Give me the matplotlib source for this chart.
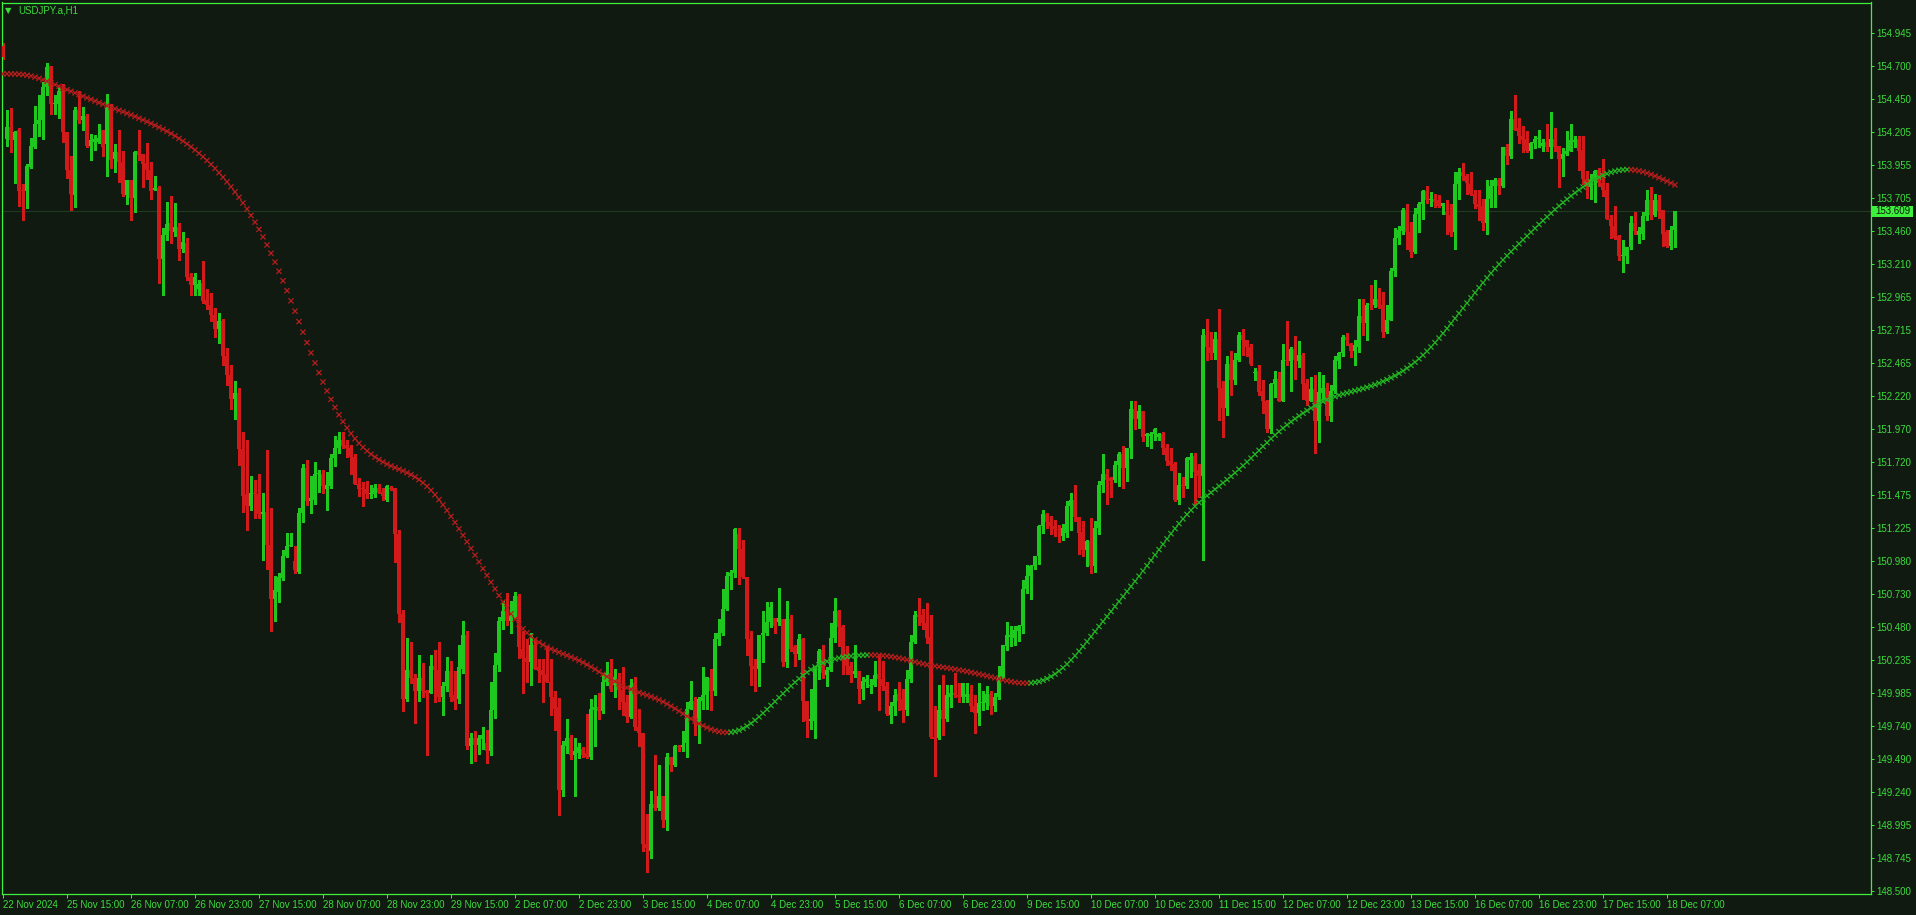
import numpy as np
import matplotlib
matplotlib.use("Agg")
import matplotlib.pyplot as plt
from matplotlib.patches import Rectangle

# === USDJPY.a H1 bars (bar 0 = 22 Nov 23:00) ===
opens = [
    154.85, 154.15, 154.24, 154.14, 154.22, 153.77, 153.76, 153.94, 154.09, 154.26,
    154.29, 154.54, 154.70, 154.41, 154.41, 154.51, 154.20, 153.92, 153.73, 154.37,
    154.29, 154.32, 154.10, 154.13, 154.13, 154.22, 154.11, 154.38, 154.00, 154.05,
    153.98, 153.73, 153.84, 153.71, 154.06, 154.04, 153.97, 153.92, 153.77, 153.78,
    153.25, 153.43, 153.52, 153.45, 153.49, 153.32, 153.37, 153.11, 153.05, 153.02,
    153.07, 152.94, 152.90, 152.83, 152.72, 152.78, 152.52, 152.38, 152.20, 152.24,
    151.82, 151.48, 151.39, 151.49, 151.48, 151.33, 151.35, 151.10, 150.69, 150.75,
    150.85, 151.02, 151.09, 150.98, 150.90, 151.34, 151.68, 151.43, 151.44, 151.63,
    151.63, 151.52, 151.54, 151.75, 151.83, 151.89, 151.85, 151.83, 151.76, 151.56,
    151.53, 151.52, 151.48, 151.48, 151.53, 151.50, 151.44, 151.53, 151.53, 151.18,
    150.58, 149.94, 150.16, 150.10, 150.00, 150.10, 150.00, 149.99, 150.19, 150.16,
    149.96, 150.04, 150.15, 149.97, 149.94, 150.17, 150.42, 149.59, 149.65, 149.60,
    149.64, 149.61, 149.55, 149.86, 150.20, 150.53, 150.60, 150.53, 150.56, 150.72,
    150.32, 150.25, 150.22, 150.35, 150.18, 150.16, 150.13, 150.07, 149.96, 149.88,
    149.26, 149.59, 149.65, 149.52, 149.54, 149.57, 149.54, 149.51, 149.86, 149.88,
    149.85, 150.07, 150.14, 150.05, 150.09, 150.01, 149.92, 149.81, 150.06, 149.73,
    149.69, 148.85, 148.80, 149.15, 149.12, 149.21, 149.03, 149.51, 149.45, 149.59,
    149.58, 149.61, 149.87, 149.93, 149.77, 149.93, 149.97, 150.10, 150.00, 150.39,
    150.44, 150.62, 150.87, 150.89, 151.18, 151.07, 150.86, 150.39, 150.19, 150.17,
    150.42, 150.44, 150.52, 150.55, 150.52, 150.54, 150.22, 150.54, 150.33, 150.28,
    150.39, 149.93, 149.78, 149.78, 150.19, 150.31, 150.12, 150.16, 150.40, 150.60,
    150.48, 150.26, 150.19, 150.13, 150.15, 150.02, 150.07, 150.04, 150.05, 150.13,
    150.09, 150.04, 149.82, 149.89, 149.98, 149.94, 149.86, 150.09, 150.37, 150.57,
    150.57, 150.51, 150.41, 149.66, 149.65, 149.86, 149.79, 149.96, 149.99, 149.97,
    149.96, 149.96, 149.98, 149.89, 149.84, 149.91, 149.91, 149.98, 149.89, 149.96,
    150.11, 150.34, 150.41, 150.40, 150.45, 150.49, 150.77, 150.87, 150.94, 151.02,
    151.24, 151.33, 151.27, 151.24, 151.22, 151.17, 151.19, 151.39, 151.44, 151.31,
    151.20, 151.06, 151.13, 150.94, 151.23, 151.55, 151.63, 151.60, 151.59, 151.70,
    151.78, 151.68, 151.83, 152.12, 152.05, 152.11, 151.92, 151.92, 151.93, 151.91,
    151.93, 151.83, 151.73, 151.71, 151.44, 151.55, 151.54, 151.74, 151.77, 151.66,
    151.62, 152.68, 152.59, 152.54, 152.65, 152.28, 152.13, 152.46, 152.34, 152.49,
    152.68, 152.64, 152.59, 152.39, 152.41, 152.26, 152.18, 151.97, 152.31, 152.35,
    152.18, 152.49, 152.48, 152.57, 152.48, 152.53, 152.32, 152.18, 152.27, 152.03,
    152.24, 152.28, 152.07, 152.26, 152.48, 152.54, 152.66, 152.61, 152.56, 152.59,
    152.82, 152.77, 152.91, 152.90, 152.95, 152.90, 152.70, 152.79, 153.16, 153.41,
    153.46, 153.62, 153.45, 153.30, 153.59, 153.66, 153.76, 153.69, 153.70, 153.69,
    153.65, 153.60, 153.58, 153.45, 153.81, 153.90, 153.87, 153.81, 153.74, 153.66,
    153.65, 153.52, 153.70, 153.80, 153.84, 153.80, 154.09, 154.02, 154.30, 154.23,
    154.17, 154.15, 154.06, 154.12, 154.15, 154.10, 154.13, 154.09, 154.15, 154.10,
    154.00, 154.04, 154.06, 154.13, 154.15, 154.07, 153.85, 153.79, 153.84, 153.92,
    153.82, 153.77, 153.55, 153.50, 153.42, 153.27, 153.27, 153.34, 153.52, 153.43,
    153.44, 153.57, 153.69, 153.58, 153.69, 153.62, 153.45, 153.35, 153.47,
]
highs = [
    154.87, 154.37, 154.38, 154.21, 154.23, 153.81, 153.96, 154.16, 154.40, 154.48,
    154.58, 154.72, 154.70, 154.48, 154.54, 154.56, 154.20, 154.02, 154.39, 154.51,
    154.39, 154.34, 154.19, 154.18, 154.26, 154.22, 154.49, 154.41, 154.11, 154.22,
    154.06, 153.84, 153.84, 154.06, 154.22, 154.04, 154.12, 153.98, 153.87, 153.80,
    153.48, 153.68, 153.72, 153.67, 153.52, 153.45, 153.41, 153.14, 153.14, 153.09,
    153.23, 153.02, 152.99, 152.88, 152.84, 152.80, 152.58, 152.45, 152.33, 152.28,
    151.95, 151.89, 151.62, 151.59, 151.63, 151.49, 151.81, 151.38, 150.87, 150.89,
    151.06, 151.19, 151.19, 151.09, 151.38, 151.71, 151.74, 151.62, 151.72, 151.66,
    151.66, 151.65, 151.78, 151.92, 151.95, 151.95, 151.89, 151.85, 151.78, 151.60,
    151.57, 151.58, 151.55, 151.56, 151.56, 151.53, 151.55, 151.54, 151.53, 151.21,
    150.61, 150.40, 150.37, 150.13, 150.27, 150.21, 150.01, 150.27, 150.31, 150.37,
    150.07, 150.26, 150.23, 150.15, 150.35, 150.53, 150.45, 149.69, 149.70, 149.67,
    149.73, 149.71, 150.07, 150.29, 150.56, 150.68, 150.74, 150.68, 150.75, 150.73,
    150.45, 150.39, 150.44, 150.39, 150.24, 150.24, 150.34, 150.24, 150.00, 149.95,
    149.63, 149.79, 149.67, 149.65, 149.61, 149.58, 149.83, 149.94, 149.97, 149.99,
    150.14, 150.22, 150.24, 150.17, 150.14, 150.18, 149.97, 150.09, 150.11, 149.87,
    149.69, 149.08, 149.25, 149.52, 149.45, 149.21, 149.54, 149.51, 149.60, 149.60,
    149.70, 149.92, 150.08, 149.96, 149.96, 150.18, 150.11, 150.17, 150.44, 150.54,
    150.77, 150.90, 150.91, 151.23, 151.23, 151.14, 150.86, 150.45, 150.24, 150.42,
    150.60, 150.67, 150.67, 150.55, 150.78, 150.54, 150.68, 150.57, 150.35, 150.43,
    150.40, 149.93, 150.02, 150.19, 150.32, 150.35, 150.18, 150.51, 150.70, 150.61,
    150.50, 150.34, 150.22, 150.35, 150.15, 150.11, 150.12, 150.09, 150.23, 150.28,
    150.23, 150.07, 149.92, 150.02, 150.07, 150.02, 150.16, 150.42, 150.60, 150.70,
    150.62, 150.66, 150.57, 149.89, 150.05, 150.12, 150.05, 150.05, 150.14, 150.06,
    150.06, 150.06, 150.05, 149.97, 150.06, 150.00, 150.04, 150.00, 149.99, 150.19,
    150.35, 150.52, 150.49, 150.49, 150.50, 150.84, 150.95, 150.95, 151.02, 151.25,
    151.36, 151.34, 151.32, 151.29, 151.25, 151.26, 151.43, 151.49, 151.55, 151.31,
    151.28, 151.14, 151.30, 151.28, 151.58, 151.78, 151.67, 151.61, 151.73, 151.80,
    151.84, 151.83, 152.18, 152.18, 152.15, 152.11, 151.94, 151.95, 151.98, 151.94,
    151.95, 151.86, 151.83, 151.72, 151.64, 151.61, 151.76, 151.79, 151.79, 151.71,
    152.72, 152.80, 152.70, 152.70, 152.87, 152.33, 152.52, 152.56, 152.54, 152.70,
    152.72, 152.64, 152.61, 152.43, 152.45, 152.34, 152.19, 152.32, 152.41, 152.40,
    152.61, 152.78, 152.59, 152.67, 152.63, 152.54, 152.35, 152.36, 152.38, 152.40,
    152.38, 152.32, 152.30, 152.52, 152.55, 152.68, 152.69, 152.62, 152.64, 152.95,
    152.95, 152.92, 153.05, 153.09, 153.03, 153.00, 152.90, 153.18, 153.48, 153.50,
    153.63, 153.66, 153.53, 153.63, 153.68, 153.77, 153.80, 153.75, 153.74, 153.73,
    153.67, 153.69, 153.66, 153.90, 153.93, 153.97, 153.89, 153.90, 153.77, 153.77,
    153.70, 153.84, 153.84, 153.86, 153.86, 154.09, 154.11, 154.36, 154.48, 154.31,
    154.25, 154.21, 154.13, 154.17, 154.22, 154.15, 154.26, 154.35, 154.23, 154.10,
    154.08, 154.21, 154.26, 154.17, 154.17, 154.17, 153.91, 153.89, 153.92, 153.93,
    154.00, 153.82, 153.58, 153.65, 153.43, 153.39, 153.34, 153.57, 153.60, 153.49,
    153.60, 153.77, 153.79, 153.74, 153.73, 153.62, 153.47, 153.50, 153.61,
]
lows = [
    154.75, 154.10, 154.05, 153.82, 153.65, 153.54, 153.63, 153.93, 154.08, 154.17,
    154.15, 154.48, 154.34, 154.34, 154.31, 154.13, 153.86, 153.62, 153.64, 154.27,
    154.22, 154.09, 153.99, 154.07, 154.12, 154.02, 153.87, 153.93, 153.90, 153.83,
    153.72, 153.66, 153.54, 153.60, 153.99, 153.79, 153.85, 153.70, 153.77, 153.07,
    152.98, 153.39, 153.37, 153.42, 153.24, 153.30, 153.09, 152.98, 152.98, 152.98,
    152.92, 152.87, 152.78, 152.66, 152.62, 152.45, 152.30, 152.12, 152.05, 151.70,
    151.35, 151.21, 151.36, 151.30, 151.30, 150.99, 150.92, 150.45, 150.53, 150.67,
    150.84, 151.01, 151.09, 150.89, 150.89, 151.27, 151.40, 151.34, 151.41, 151.50,
    151.49, 151.36, 151.53, 151.69, 151.79, 151.83, 151.76, 151.63, 151.56, 151.47,
    151.39, 151.45, 151.45, 151.46, 151.49, 151.44, 151.43, 151.51, 150.97, 150.52,
    149.85, 149.93, 150.06, 149.76, 149.93, 149.96, 149.52, 149.99, 149.92, 149.93,
    149.82, 150.00, 149.93, 149.87, 149.91, 150.14, 149.57, 149.46, 149.48, 149.53,
    149.57, 149.46, 149.52, 149.80, 150.15, 150.47, 150.50, 150.44, 150.55, 150.25,
    149.99, 150.07, 150.05, 150.17, 150.07, 149.92, 150.07, 149.82, 149.71, 149.07,
    149.21, 149.54, 149.49, 149.21, 149.50, 149.51, 149.50, 149.49, 149.59, 149.79,
    149.84, 150.05, 150.00, 149.96, 149.87, 149.82, 149.77, 149.80, 149.71, 149.59,
    148.80, 148.64, 148.75, 149.11, 149.11, 148.98, 148.96, 149.40, 149.44, 149.55,
    149.55, 149.51, 149.87, 149.67, 149.61, 149.87, 149.87, 149.86, 149.97, 150.35,
    150.42, 150.61, 150.77, 150.86, 150.81, 150.85, 150.27, 150.05, 150.00, 150.04,
    150.22, 150.42, 150.48, 150.44, 150.50, 150.19, 150.18, 150.30, 150.19, 150.24,
    149.78, 149.66, 149.72, 149.65, 150.09, 150.10, 150.04, 150.15, 150.37, 150.34,
    150.13, 150.13, 150.07, 150.11, 149.91, 149.94, 150.03, 149.99, 150.04, 149.86,
    150.01, 149.82, 149.76, 149.82, 149.86, 149.77, 149.82, 150.07, 150.36, 150.50,
    150.47, 150.36, 149.65, 149.36, 149.64, 149.67, 149.78, 149.88, 149.96, 149.92,
    149.92, 149.92, 149.85, 149.69, 149.75, 149.86, 149.87, 149.83, 149.85, 149.94,
    150.10, 150.31, 150.34, 150.35, 150.38, 150.44, 150.74, 150.69, 150.92, 150.96,
    151.19, 151.23, 151.18, 151.17, 151.12, 151.14, 151.16, 151.21, 151.28, 151.03,
    151.02, 150.94, 150.89, 150.90, 151.18, 151.50, 151.41, 151.46, 151.57, 151.54,
    151.53, 151.58, 151.75, 151.97, 151.98, 151.88, 151.84, 151.83, 151.89, 151.89,
    151.78, 151.70, 151.66, 151.43, 151.41, 151.46, 151.53, 151.61, 151.41, 151.46,
    150.99, 152.49, 152.50, 152.50, 152.04, 151.91, 152.08, 152.23, 152.31, 152.48,
    152.53, 152.52, 152.45, 152.34, 152.23, 152.09, 151.95, 151.94, 152.21, 152.18,
    152.18, 152.45, 152.26, 152.35, 152.44, 152.20, 152.15, 152.18, 151.79, 151.87,
    152.20, 152.04, 152.03, 152.24, 152.43, 152.52, 152.60, 152.51, 152.45, 152.55,
    152.68, 152.64, 152.87, 152.89, 152.88, 152.66, 152.69, 152.79, 153.12, 153.36,
    153.44, 153.32, 153.26, 153.29, 153.45, 153.55, 153.67, 153.65, 153.64, 153.64,
    153.59, 153.44, 153.42, 153.32, 153.70, 153.84, 153.74, 153.73, 153.63, 153.54,
    153.47, 153.44, 153.64, 153.64, 153.74, 153.79, 153.96, 154.01, 154.22, 154.12,
    154.05, 154.05, 154.01, 154.08, 154.09, 154.06, 154.06, 154.01, 154.06, 153.79,
    153.87, 154.03, 154.06, 154.09, 153.92, 153.81, 153.71, 153.70, 153.68, 153.80,
    153.72, 153.55, 153.41, 153.40, 153.24, 153.15, 153.22, 153.32, 153.44, 153.37,
    153.40, 153.54, 153.55, 153.57, 153.56, 153.35, 153.34, 153.32, 153.34,
]
closes = [
    154.77, 154.24, 154.14, 154.20, 153.76, 153.76, 153.95, 154.10, 154.26, 154.29,
    154.54, 154.69, 154.41, 154.42, 154.51, 154.20, 153.92, 153.74, 154.37, 154.29,
    154.32, 154.10, 154.14, 154.15, 154.16, 154.09, 154.38, 153.99, 154.05, 153.98,
    153.74, 153.84, 153.71, 154.05, 154.03, 153.96, 153.92, 153.76, 153.78, 153.25,
    153.43, 153.51, 153.46, 153.49, 153.32, 153.38, 153.11, 153.05, 153.11, 153.06,
    152.93, 152.90, 152.83, 152.72, 152.78, 152.52, 152.38, 152.20, 152.24, 151.82,
    151.47, 151.39, 151.49, 151.48, 151.33, 151.35, 151.10, 150.69, 150.76, 150.86,
    151.02, 151.09, 151.10, 150.91, 151.34, 151.68, 151.43, 151.45, 151.63, 151.64,
    151.54, 151.55, 151.75, 151.83, 151.89, 151.84, 151.83, 151.76, 151.56, 151.52,
    151.52, 151.48, 151.49, 151.53, 151.49, 151.47, 151.54, 151.52, 151.18, 150.58,
    149.94, 150.16, 150.10, 150.00, 150.10, 150.00, 149.99, 150.19, 150.16, 149.96,
    150.04, 150.15, 149.96, 149.93, 150.18, 150.42, 149.59, 149.65, 149.60, 149.65,
    149.67, 149.55, 149.86, 150.20, 150.53, 150.60, 150.53, 150.57, 150.72, 150.33,
    150.25, 150.22, 150.35, 150.17, 150.15, 150.12, 150.07, 149.96, 149.87, 149.26,
    149.60, 149.65, 149.52, 149.55, 149.58, 149.52, 149.51, 149.87, 149.88, 149.85,
    150.07, 150.14, 150.02, 150.11, 150.01, 149.92, 149.81, 150.05, 149.73, 149.69,
    148.85, 148.82, 149.15, 149.12, 149.21, 149.03, 149.51, 149.45, 149.59, 149.58,
    149.60, 149.87, 149.93, 149.77, 149.94, 149.97, 150.11, 150.00, 150.39, 150.44,
    150.62, 150.87, 150.89, 151.22, 151.07, 150.86, 150.39, 150.19, 150.17, 150.42,
    150.44, 150.52, 150.63, 150.49, 150.55, 150.22, 150.54, 150.32, 150.28, 150.39,
    149.93, 149.78, 149.79, 150.19, 150.30, 150.14, 150.16, 150.40, 150.60, 150.48,
    150.25, 150.19, 150.12, 150.15, 150.02, 150.08, 150.09, 150.05, 150.12, 150.09,
    150.04, 149.83, 149.89, 149.97, 149.93, 149.86, 150.09, 150.37, 150.57, 150.56,
    150.51, 150.40, 149.66, 149.64, 149.86, 149.79, 149.97, 149.99, 149.97, 149.96,
    150.06, 149.98, 149.89, 149.84, 149.91, 149.92, 149.98, 149.89, 149.96, 150.11,
    150.35, 150.42, 150.42, 150.46, 150.49, 150.77, 150.87, 150.94, 151.02, 151.24,
    151.33, 151.27, 151.24, 151.22, 151.21, 151.23, 151.39, 151.44, 151.31, 151.19,
    151.06, 151.13, 150.94, 151.23, 151.55, 151.63, 151.59, 151.58, 151.70, 151.78,
    151.68, 151.83, 152.12, 152.05, 152.11, 151.91, 151.93, 151.93, 151.97, 151.93,
    151.83, 151.73, 151.70, 151.44, 151.55, 151.54, 151.75, 151.76, 151.65, 151.62,
    152.68, 152.59, 152.54, 152.65, 152.28, 152.13, 152.46, 152.34, 152.49, 152.68,
    152.64, 152.59, 152.46, 152.40, 152.25, 152.18, 151.97, 152.31, 152.35, 152.18,
    152.49, 152.48, 152.57, 152.49, 152.53, 152.31, 152.18, 152.27, 152.03, 152.25,
    152.28, 152.07, 152.26, 152.49, 152.54, 152.66, 152.64, 152.56, 152.60, 152.82,
    152.77, 152.90, 152.90, 152.95, 152.89, 152.70, 152.79, 153.16, 153.41, 153.47,
    153.62, 153.45, 153.30, 153.59, 153.66, 153.76, 153.69, 153.70, 153.68, 153.65,
    153.67, 153.58, 153.45, 153.81, 153.90, 153.87, 153.82, 153.74, 153.66, 153.64,
    153.52, 153.70, 153.80, 153.84, 153.80, 154.09, 154.02, 154.30, 154.22, 154.17,
    154.14, 154.06, 154.12, 154.15, 154.16, 154.12, 154.09, 154.15, 154.09, 154.00,
    154.04, 154.06, 154.14, 154.14, 154.06, 153.85, 153.79, 153.84, 153.91, 153.82,
    153.77, 153.55, 153.50, 153.41, 153.27, 153.28, 153.34, 153.52, 153.46, 153.46,
    153.57, 153.69, 153.58, 153.69, 153.61, 153.44, 153.35, 153.47, 153.609,
]

# smoothed line: 4 chained EMAs of the closes, started from the value at the left edge
ma_start = 154.64
MA_PERIOD = 14
MA_STAGES = 4

price_ticks = [154.945, 154.700, 154.450, 154.205, 153.955, 153.705, 153.460, 153.210,
               152.965, 152.715, 152.465, 152.220, 151.970, 151.720, 151.475, 151.225,
               150.980, 150.730, 150.480, 150.235, 149.985, 149.740, 149.490, 149.240,
               148.995, 148.745, 148.500]
time_labels = ["22 Nov 2024", "25 Nov 15:00", "26 Nov 07:00", "26 Nov 23:00",
               "27 Nov 15:00", "28 Nov 07:00", "28 Nov 23:00", "29 Nov 15:00",
               "2 Dec 07:00", "2 Dec 23:00", "3 Dec 15:00", "4 Dec 07:00",
               "4 Dec 23:00", "5 Dec 15:00", "6 Dec 07:00", "6 Dec 23:00",
               "9 Dec 15:00", "10 Dec 07:00", "10 Dec 23:00", "11 Dec 15:00",
               "12 Dec 07:00", "12 Dec 23:00", "13 Dec 15:00", "16 Dec 07:00",
               "16 Dec 23:00", "17 Dec 15:00", "18 Dec 07:00"]
BARS_PER_LABEL = 16

# colours
BG = "#111a11"
FG = "#3cdc3c"
BORDER = "#3cf03c"
BULL = "#1ec81e"
BEAR = "#d21a1a"
MA_UP = "#22b422"
MA_DN = "#b81c1c"

plt.rcParams["font.family"] = ["Liberation Sans Narrow", "Liberation Sans", "DejaVu Sans"]


def ema_cascade(values, period, stages, seed):
    a = 2.0 / (period + 1.0)
    state = [seed] * stages
    out = []
    for v in values:
        x = v
        for s in range(stages):
            state[s] += a * (x - state[s])
            x = state[s]
        out.append(x)
    return np.array(out)


o = np.array(opens)
c = np.array(closes)
h = np.maximum(np.array(highs), np.maximum(o, c))
l = np.minimum(np.array(lows), np.minimum(o, c))
n = len(c)
x = np.arange(n)
ma = ema_cascade(c, MA_PERIOD, MA_STAGES, ma_start)

W, H = 1916, 915
fig = plt.figure(figsize=(W / 100, H / 100), dpi=100)
fig.patch.set_facecolor(BG)
ax = fig.add_axes([2 / W, 1 - 894 / H, 1869 / W, 891.5 / H])
ax.set_facecolor(BG)

# candles
up = c >= o
col = np.where(up, BULL, BEAR)
ax.axhline(c[-1], color="#1e3c1e", lw=0.8, zorder=1)
ax.vlines(x, l, h, colors=col, linewidth=0.8, zorder=2, antialiased=False)
body_lo = np.minimum(o, c)
body_h = np.maximum(np.abs(c - o), 0.008)
ax.bar(x, body_h, bottom=body_lo, width=0.8, color=col, linewidth=0,
       zorder=3, antialiased=False)

# slope-coloured smoothed line drawn as crosses
slope = np.diff(ma, prepend=ma[0] + 1)
ma_col = np.where(slope >= 0, MA_UP, MA_DN)
ax.scatter(x, ma, marker="x", s=14, c=ma_col, linewidths=0.9, zorder=4)

ax.set_xlim(-0.25, 467)
ax.set_ylim(148.477, 155.176)

for sp in ax.spines.values():
    sp.set_color(BORDER)
    sp.set_linewidth(0.9)

ax.yaxis.tick_right()
ax.set_yticks(price_ticks)
ax.set_yticklabels([f"{v:.3f}" for v in price_ticks])
ax.tick_params(axis="y", direction="out", length=2.5, width=0.7, colors=BORDER,
               labelcolor=FG, labelsize=7, pad=1.5)
ax.set_xticks(np.arange(len(time_labels)) * BARS_PER_LABEL)
ax.set_xticklabels(time_labels)
ax.tick_params(axis="x", direction="out", length=3, width=0.7, colors=BORDER,
               labelcolor=FG, labelsize=7, pad=1.5)
for lbl in ax.get_xticklabels():
    lbl.set_horizontalalignment("left")

# title
fig.text(5 / W, 1 - 10.5 / H, "\u25bc", fontsize=6, color=FG, va="center",
         family="DejaVu Sans")
fig.text(18 / W, 1 - 10.5 / H, "USDJPY.a,H1", fontsize=7, color=FG, va="center")

# current price box
yf = fig.transFigure.inverted().transform(ax.transData.transform((0, c[-1])))[1]
fig.patches.append(Rectangle((1872 / W, yf - 5.5 / H), 41 / W, 11 / H,
                             transform=fig.transFigure, facecolor=BORDER,
                             edgecolor="none"))
fig.text(1875 / W, yf, f"{c[-1]:.3f}", fontsize=7, color="#0b1a0b", va="center")

fig.savefig("out.png", dpi=100, facecolor=BG)
